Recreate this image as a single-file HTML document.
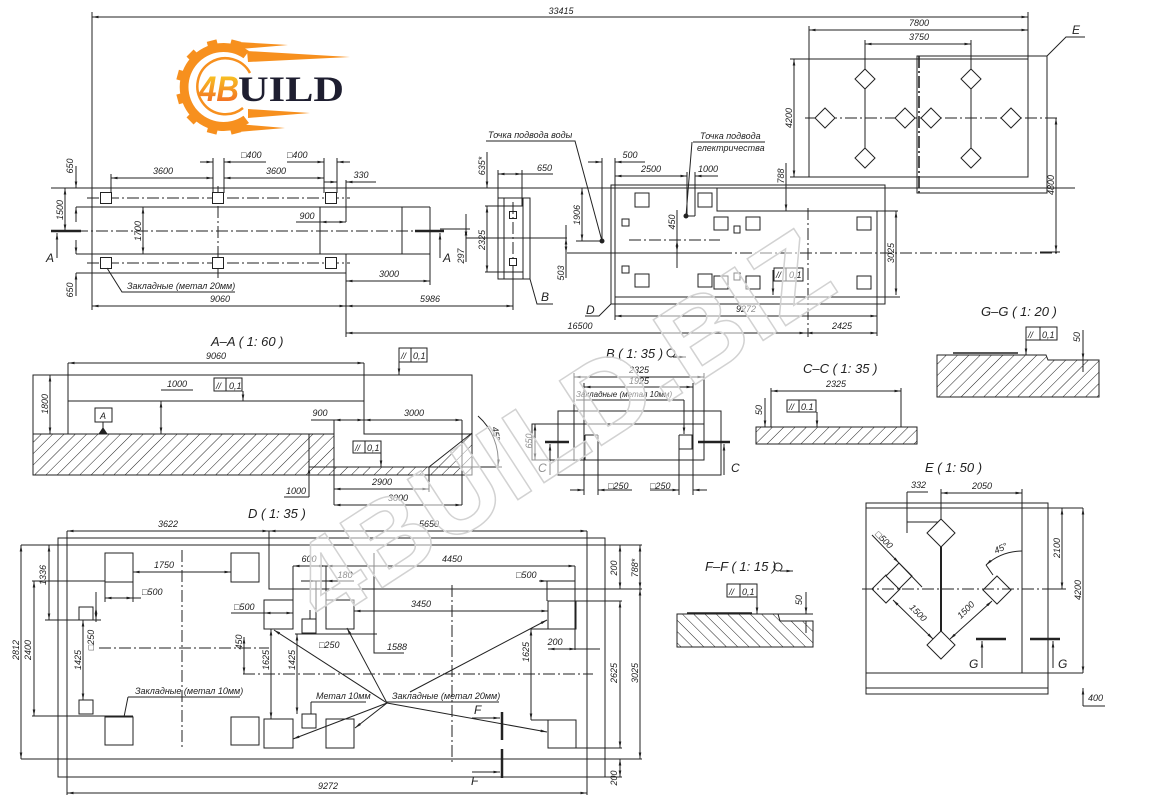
<!DOCTYPE html>
<html><head><meta charset="utf-8">
<style>
html,body{margin:0;padding:0;background:#fff;}
svg{display:block;}
text{font-family:"Liberation Sans","DejaVu Sans",sans-serif;font-style:italic;font-size:9px;fill:#222;stroke:none;}
.t{font-size:13px;}
.l{font-size:12px;}
.s{font-size:8px;}
.m{text-anchor:middle;}
.d{marker-start:url(#a);marker-end:url(#a);}
.e{marker-end:url(#a);}
.dd{stroke-dasharray:12 3 2 3;}
</style></head><body>
<svg width="1150" height="800" viewBox="0 0 1150 800" xmlns="http://www.w3.org/2000/svg">
<defs>
<marker id="a" viewBox="0 0 10 4" refX="10" refY="2" markerWidth="7" markerHeight="2.6" markerUnits="userSpaceOnUse" orient="auto-start-reverse"><path d="M0,0L10,2L0,4z" fill="#222"/></marker>
<pattern id="h" width="8" height="8" patternUnits="userSpaceOnUse" patternTransform="rotate(45)"><line x1="0" y1="-1" x2="0" y2="9" stroke="#222" stroke-width="1"/></pattern>
<pattern id="h2" width="8" height="8" patternUnits="userSpaceOnUse" patternTransform="rotate(-45)"><line x1="0" y1="-1" x2="0" y2="9" stroke="#222" stroke-width="1"/></pattern>
<linearGradient id="lg" x1="0" y1="0" x2="0" y2="1"><stop offset="0" stop-color="#f9d423"/><stop offset="1" stop-color="#f15a24"/></linearGradient>
</defs>
<rect width="1150" height="800" fill="#fff"/>

<!-- LOGO -->
<g fill="#f7901e">
<path d="M249 51 A44 44 0 1 0 249 123 L243.5 115.7 A35 35 0 1 1 243.5 58.3 Z"/>
<g>
<rect x="263" y="82" width="9" height="10" transform="rotate(-75 224 87)"/>
<rect x="263" y="82" width="9" height="10" transform="rotate(-105 224 87)"/>
<rect x="263" y="82" width="9" height="10" transform="rotate(-135 224 87)"/>
<rect x="263" y="82" width="9" height="10" transform="rotate(-165 224 87)"/>
<rect x="263" y="82" width="9" height="10" transform="rotate(165 224 87)"/>
<rect x="263" y="82" width="9" height="10" transform="rotate(135 224 87)"/>
<rect x="263" y="82" width="9" height="10" transform="rotate(105 224 87)"/>
<rect x="263" y="82" width="9" height="10" transform="rotate(75 224 87)"/>
</g>
<polygon points="238,42 288,45 240,49"/>
<polygon points="247,51 350,57 248,62"/>
<polygon points="248,109 310,113 248,118"/>
<polygon points="238,124 285,128 238,132"/>
</g>
<path d="M250 73 A28 28 0 1 0 243 108" fill="none" stroke="#f7901e" stroke-width="2.5"/>
<text x="199" y="101" style="font-style:italic;font-weight:bold;font-size:35px;fill:url(#lg)" textLength="40" lengthAdjust="spacingAndGlyphs">4B</text>
<text x="238" y="101" style="font-family:'Liberation Serif',serif;font-style:normal;font-weight:bold;font-size:36px;fill:#1e1e30" textLength="106" lengthAdjust="spacingAndGlyphs">UILD</text>

<g stroke="#222" stroke-width="1" fill="none">
<!-- ===== TOP PLAN ===== -->
<line class="d" x1="92" y1="17" x2="1028" y2="17"/>
<path d="M92 12V310 M1028 12V177"/>
<path d="M51 188H1075"/>
<path d="M76 207H430 M76 254H430 M76 273H346 M430 207V285 M402 207V254 M320 207V254"/>
<path d="M346 180V222 M346 254V337"/>
<path class="dd" d="M87 198H350 M87 263H350 M76 231H430 M218 186V279"/>
<path stroke-width="2.5" d="M51 231H81 M415 231H444"/>
<line class="e" x1="57" y1="258" x2="57" y2="233"/>
<line class="e" x1="440" y1="258" x2="440" y2="233"/>
<g fill="#fff">
<rect x="100.5" y="192.5" width="11" height="11"/><rect x="212.5" y="192.5" width="11" height="11"/><rect x="325.5" y="192.5" width="11" height="11"/>
<rect x="100.5" y="257.5" width="11" height="11"/><rect x="212.5" y="257.5" width="11" height="11"/><rect x="325.5" y="257.5" width="11" height="11"/>
</g>
<line class="d" x1="65" y1="188" x2="65" y2="231"/>
<line class="e" x1="76" y1="166" x2="76" y2="188"/>
<line class="e" x1="76" y1="222" x2="76" y2="207"/>
<line class="e" x1="76" y1="240" x2="76" y2="254"/>
<line class="e" x1="76" y1="296" x2="76" y2="273"/>
<line class="d" x1="143" y1="207" x2="143" y2="254"/>
<line class="d" x1="111" y1="178" x2="213" y2="178"/>
<line class="d" x1="224" y1="178" x2="324" y2="178"/>
<path d="M111 174V193 M213 158V193 M224 158V193 M324 158V193 M337 158V193"/>
<line class="e" x1="200" y1="162" x2="213" y2="162"/>
<line class="e" x1="240" y1="162" x2="224" y2="162"/>
<path d="M240 162H266 M287 162H311"/>
<line class="e" x1="311" y1="162" x2="324" y2="162"/>
<line class="e" x1="350" y1="162" x2="337" y2="162"/>
<line class="e" x1="324" y1="182" x2="337" y2="182"/>
<line class="e" x1="376" y1="182" x2="346" y2="182"/>
<line class="d" x1="320" y1="222" x2="346" y2="222"/>
<path d="M296 222H320"/>
<line class="d" x1="346" y1="281" x2="430" y2="281"/>
<line class="d" x1="346" y1="306" x2="513" y2="306"/>
<line class="d" x1="92" y1="306" x2="346" y2="306"/>
<line class="d" x1="346" y1="333" x2="806" y2="333"/>
<line class="d" x1="806" y1="333" x2="877" y2="333"/>
<path d="M107 268L122 292H235"/>

<!-- B top -->
<rect x="498" y="198" width="32" height="81"/>
<path d="M504 198V279 M523 198V279 M485 206H523 M485 272H523"/>
<rect x="509.5" y="211.5" width="7" height="7"/><rect x="509.5" y="258.5" width="7" height="7"/>
<path class="dd" d="M513 202V258"/>
<path d="M513 266V310"/>
<line class="d" x1="487" y1="206" x2="487" y2="272"/>
<line class="e" x1="487" y1="152" x2="487" y2="188"/>
<line class="d" x1="498" y1="174" x2="522" y2="174"/>
<path d="M522 174H553 M498 170V198 M522 170V206"/>
<path d="M530 279L537 304H553"/>
<path d="M440 229H470 M466 238H567 M466 214V262"/>
<line class="d" x1="466" y1="229" x2="466" y2="238"/>
<path d="M566 225V278"/>
<line class="d" x1="566" y1="238" x2="566" y2="253"/>
<path d="M567 253H720"/>
<path class="dd" d="M720 253H1057"/>
<line class="d" x1="582" y1="188" x2="582" y2="241"/>
<path d="M576 241H602"/>
<circle cx="602" cy="241" r="2" fill="#222"/>
<path d="M486 141H575L602 241"/>
<path d="M602 158V241 M615 158V188"/>
<line class="e" x1="588" y1="162" x2="602" y2="162"/>
<line class="e" x1="645" y1="162" x2="615" y2="162"/>
<line class="d" x1="615" y1="176" x2="687" y2="176"/>
<path d="M687 172V216 M695 172V216 M686 216H695"/>
<line class="e" x1="718" y1="176" x2="695" y2="176"/>
<path d="M693 142H765 M692 142L686 216"/>
<circle cx="686" cy="216" r="2" fill="#222"/>

<!-- D top -->
<rect x="611" y="185" width="274" height="119"/>
<path d="M615 188V297H900 M615 188H717V211H898 M877 211V336 M615 297V320"/>
<line class="e" x1="786" y1="163" x2="786" y2="211"/>
<line class="d" x1="896" y1="211" x2="896" y2="295"/>
<path class="dd" d="M808 208V337 M629 240H720"/>
<path d="M677 210V268"/>
<line class="d" x1="677" y1="240" x2="677" y2="252"/>
<g>
<rect x="635" y="193" width="14" height="14"/><rect x="698" y="193" width="14" height="14"/>
<rect x="622" y="219" width="7" height="7"/><rect x="714" y="217" width="14" height="13"/>
<rect x="734" y="226" width="6" height="7"/><rect x="746" y="217" width="14" height="13"/>
<rect x="857" y="217" width="14" height="13"/>
<rect x="622" y="266" width="7" height="7"/><rect x="635" y="274" width="14" height="13"/>
<rect x="698" y="274" width="14" height="13"/><rect x="714" y="276" width="14" height="13"/>
<rect x="734" y="273" width="6" height="7"/><rect x="746" y="276" width="14" height="13"/>
<rect x="857" y="276" width="14" height="13"/>
</g>
<rect x="774" y="268" width="29" height="13"/><path d="M786 268V281"/>
<line class="e" x1="773" y1="270" x2="773" y2="295"/>
<path d="M611 304L599 316H585"/>
<line class="d" x1="615" y1="316" x2="877" y2="316"/>

<!-- E plan -->
<line class="d" x1="809" y1="30" x2="1028" y2="30"/>
<rect x="809" y="59" width="219" height="118"/>
<path d="M809 26V59 M790 59H809 M790 177H809"/>
<line class="d" x1="794" y1="59" x2="794" y2="177"/>
<rect x="917" y="56" width="130" height="137"/>
<path class="dd" stroke-width="1.6" d="M919 56V193"/>
<line class="d" x1="865" y1="44" x2="971" y2="44"/>
<path d="M865 40V158 M971 40V158"/>
<path class="dd" d="M805 118H1060"/>
<g fill="#fff">
<polygon points="865,69 875,79 865,89 855,79"/><polygon points="971,69 981,79 971,89 961,79"/>
<polygon points="825,108 835,118 825,128 815,118"/><polygon points="905,108 915,118 905,128 895,118"/>
<polygon points="931,108 941,118 931,128 921,118"/><polygon points="1011,108 1021,118 1011,128 1001,118"/>
<polygon points="865,148 875,158 865,168 855,158"/><polygon points="971,148 981,158 971,168 961,158"/>
</g>
<line class="d" x1="1056" y1="118" x2="1056" y2="252"/>
<path d="M1040 252H1060"/>
<path d="M1047 56L1066 37H1085"/>

<!-- ===== A-A ===== -->
<rect x="33" y="375" width="439" height="100"/>
<rect x="33" y="434" width="301" height="41" fill="url(#h)"/>
<rect x="334" y="467" width="138" height="8" fill="url(#h)"/>
<polygon points="429,467 472,433 472,467" fill="url(#h)"/>
<path d="M364 363V434H472 M309 434V497 M334 420V505 M462 420V505 M429 467V492 M68 363V434 M68 401H364 M309 467H472"/>
<line class="d" x1="68" y1="363" x2="364" y2="363"/>
<line class="d" x1="50" y1="375" x2="50" y2="434"/>
<line class="d" x1="161" y1="401" x2="161" y2="434"/>
<path d="M161 390H193"/>
<rect x="214" y="378" width="28" height="13"/><path d="M226 378V391"/>
<line class="e" x1="243" y1="391" x2="243" y2="401"/>
<rect x="399" y="348" width="28" height="14"/><path d="M411 348V362"/>
<line class="e" x1="399" y1="362" x2="399" y2="375"/>
<rect x="95" y="408" width="17" height="14"/><path d="M103 422V430"/>
<polygon points="99,434 107,434 103,428" fill="#222"/>
<path d="M311 420H334"/>
<line class="d" x1="334" y1="420" x2="364" y2="420"/>
<line class="d" x1="364" y1="420" x2="462" y2="420"/>
<rect x="353" y="441" width="28" height="12"/><path d="M365 441V453"/>
<line class="e" x1="381" y1="453" x2="381" y2="467"/>
<path class="e" d="M478 416 A60 60 0 0 1 498 466"/>
<path d="M472 467H502"/>
<line class="e" x1="309" y1="480" x2="309" y2="467"/>
<path d="M284 497H309"/>
<line class="d" x1="334" y1="489" x2="429" y2="489"/>
<line class="d" x1="334" y1="505" x2="462" y2="505"/>

<!-- ===== B detail ===== -->
<rect x="558" y="411" width="163" height="64"/>
<rect x="532" y="424" width="172" height="36"/>
<path d="M574 373V461 M704 373V424 M584 383V495 M693 383V495 M598 435V495 M679 435V495 M585 435H598 M585 435V460 M679 435H692V449H679"/>
<line class="d" x1="574" y1="377" x2="704" y2="377"/>
<line class="d" x1="584" y1="387" x2="693" y2="387"/>
<path d="M576 400H684"/>
<line class="e" x1="684" y1="400" x2="684" y2="434"/>
<path stroke-width="2.5" d="M545 442H569 M698 442H730"/>
<line class="e" x1="550" y1="475" x2="550" y2="444"/>
<line class="e" x1="724" y1="475" x2="724" y2="444"/>
<line class="d" x1="535" y1="424" x2="535" y2="460"/>
<line class="e" x1="570" y1="490" x2="584" y2="490"/>
<line class="e" x1="612" y1="490" x2="598" y2="490"/>
<path d="M598 490H632 M650 490H679"/>
<line class="e" x1="665" y1="490" x2="679" y2="490"/>
<line class="e" x1="707" y1="490" x2="693" y2="490"/>
<circle cx="671" cy="353" r="4"/>
<line class="e" x1="673" y1="357" x2="686" y2="357"/>

<!-- ===== C-C ===== -->
<rect x="756" y="427" width="161" height="17" fill="url(#h)"/>
<path d="M771 388V427 M901 388V427"/>
<line class="d" x1="771" y1="391" x2="901" y2="391"/>
<rect x="787" y="400" width="29" height="12"/><path d="M799 400V412"/>
<line class="e" x1="817" y1="412" x2="817" y2="427"/>
<line class="e" x1="765" y1="398" x2="765" y2="427"/>

<!-- ===== G-G ===== -->
<polygon points="937,355 1046,355 1048,360 1099,360 1099,397 937,397" fill="url(#h)"/>
<path stroke-width="1.5" d="M953 353H1018"/>
<rect x="1026" y="327" width="31" height="13"/><path d="M1040 327V340"/>
<line class="e" x1="1026" y1="340" x2="1026" y2="355"/>
<line class="e" x1="1083" y1="330" x2="1083" y2="360"/>
<path d="M1083 360V372 M1060 360H1090"/>

<!-- ===== F-F ===== -->
<polygon points="677,614 778,614 780,621 813,621 813,647 677,647" fill="url(#h2)"/>
<path d="M778 614H813"/>
<path stroke-width="1.5" d="M687 613H752"/>
<rect x="727" y="584" width="30" height="13"/><path d="M740 584V597"/>
<line class="e" x1="757" y1="597" x2="757" y2="614"/>
<line class="e" x1="806" y1="592" x2="806" y2="614"/>
<path d="M806 621V633"/>
<circle cx="778" cy="567" r="4"/>
<line class="e" x1="780" y1="571" x2="793" y2="571"/>

<!-- ===== E detail ===== -->
<rect x="866" y="503" width="182" height="191"/>
<path d="M866 508H1083 M866 673H1083 M866 688H1048 M1022 489V673 M907 492V533 M907 522H941 M941 489V520"/>
<path d="M907 492H928"/>
<line class="d" x1="941" y1="493" x2="1022" y2="493"/>
<path stroke-width="2" d="M941 547V631"/>
<line class="d" x1="1062" y1="508" x2="1062" y2="589"/>
<line class="d" x1="1083" y1="508" x2="1083" y2="673"/>
<line class="e" x1="1083" y1="706" x2="1083" y2="688"/>
<path d="M1083 706H1105 M1048 589H1066"/>
<path class="dd" d="M862 589H1065"/>
<g fill="#fff">
<polygon points="941,519 955,533 941,547 927,533"/>
<polygon points="941,631 955,645 941,659 927,645"/>
<polygon points="997,576 1011,590 997,604 983,590"/>
<polygon points="886,575 900,589 886,603 872,589"/>
<polygon points="899,563 912,576 899,589 886,576"/>
</g>
<path class="dd" d="M862 589H1065"/>
<line class="e" x1="872" y1="535" x2="899" y2="563"/>
<path d="M899 563L922 587"/>
<line class="d" x1="893" y1="600" x2="933" y2="639"/>
<line class="d" x1="950" y1="639" x2="992" y2="601"/>
<path class="e" d="M1022 551 A55 55 0 0 0 986 565"/>
<path d="M986 565L993 575"/>
<path stroke-width="2.5" d="M976 639H1006 M1030 639H1060"/>
<line class="e" x1="982" y1="668" x2="982" y2="641"/>
<line class="e" x1="1053" y1="668" x2="1053" y2="641"/>

<!-- ===== D detail ===== -->
<rect x="58" y="538" width="547" height="239"/>
<path d="M21 545H642 M21 759H642 M67 531V795 M587 531V795 M269 531V589H642 M576 601H622 M576 748H622 M587 777H622"/>
<line class="d" x1="21" y1="545" x2="21" y2="759"/>
<line class="d" x1="640" y1="589" x2="640" y2="759"/>
<line class="d" x1="640" y1="545" x2="640" y2="589"/>
<line class="d" x1="620" y1="545" x2="620" y2="589"/>
<line class="d" x1="620" y1="601" x2="620" y2="748"/>
<line class="d" x1="620" y1="759" x2="620" y2="777"/>
<line class="d" x1="67" y1="531" x2="269" y2="531"/>
<line class="d" x1="269" y1="531" x2="587" y2="531"/>
<line class="d" x1="67" y1="793" x2="587" y2="793"/>
<path class="dd" d="M182 550V748 M452 585V762 M99 648H269 M243 674H593"/>
<g fill="#fff">
<rect x="105" y="553" width="28" height="29"/><rect x="231" y="553" width="28" height="29"/>
<rect x="264" y="600" width="29" height="29"/><rect x="326" y="600" width="28" height="29"/>
<rect x="548" y="601" width="28" height="28"/>
<rect x="105" y="717" width="28" height="28"/><rect x="231" y="717" width="28" height="28"/>
<rect x="264" y="719" width="29" height="29"/><rect x="326" y="719" width="28" height="29"/>
<rect x="548" y="720" width="28" height="28"/>
<rect x="79" y="607" width="14" height="13"/><rect x="79" y="700" width="14" height="14"/>
<rect x="302" y="619" width="14" height="14"/><rect x="302" y="714" width="14" height="14"/>
</g>
<line class="d" x1="133" y1="572" x2="231" y2="572"/>
<line class="d" x1="105" y1="598" x2="133" y2="598"/>
<path d="M133 598H141 M105 582V602 M133 582V602"/>
<line class="d" x1="49" y1="545" x2="49" y2="620"/>
<path d="M45 620H101"/>
<line class="d" x1="34" y1="581" x2="34" y2="716"/>
<path d="M32 581H105 M32 716H133"/>
<line class="d" x1="83" y1="620" x2="83" y2="700"/>
<path d="M96 592V622"/>
<line class="d" x1="96" y1="607" x2="96" y2="620"/>
<path d="M128 697H240 M128 697L124 717"/>
<path d="M293 566V600 M326 566V600 M316 581V619 M301 581H354"/>
<line class="d" x1="293" y1="566" x2="326" y2="566"/>
<line class="d" x1="326" y1="566" x2="575" y2="566"/>
<line class="e" x1="301" y1="581" x2="316" y2="581"/>
<line class="e" x1="340" y1="581" x2="326" y2="581"/>
<path d="M231 613H264"/>
<line class="d" x1="264" y1="613" x2="293" y2="613"/>
<line class="d" x1="354" y1="611" x2="548" y2="611"/>
<path d="M374 553V653H404 M295 634H377"/>
<line class="d" x1="244" y1="637" x2="244" y2="674"/>
<line class="d" x1="271" y1="629" x2="271" y2="719"/>
<line class="d" x1="297" y1="634" x2="297" y2="714"/>
<path d="M310 610V619 M311 702H366 M311 702V714"/>
<path d="M387 702H499"/>
<path d="M539 581H575 M547 581V601 M575 566V650"/>
<line class="e" x1="539" y1="581" x2="547" y2="581"/>
<line class="d" x1="531" y1="629" x2="531" y2="720"/>
<path d="M531 629H548 M531 720H548"/>
<line class="d" x1="548" y1="649" x2="576" y2="649"/>
<path d="M576 649H600"/>
<line class="e" x1="387" y1="703" x2="274" y2="630"/>
<line class="e" x1="387" y1="703" x2="347" y2="628"/>
<line class="e" x1="410" y1="692" x2="547" y2="620"/>
<line class="e" x1="387" y1="703" x2="293" y2="739"/>
<line class="e" x1="387" y1="703" x2="355" y2="728"/>
<line class="e" x1="387" y1="703" x2="547" y2="732"/>
<path stroke-width="2.5" d="M502 712V740 M502 749V778"/>
<line class="e" x1="472" y1="718" x2="500" y2="718"/>
<line class="e" x1="472" y1="772" x2="500" y2="772"/>
</g>

<!-- ===== TEXTS ===== -->
<g>
<text x="561" y="14" class="m">33415</text>
<text x="241" y="158">□400</text><text x="287" y="158">□400</text>
<text x="163" y="174" class="m">3600</text><text x="276" y="174" class="m">3600</text>
<text x="361" y="178" class="m">330</text>
<text x="307" y="219" class="m">900</text>
<text x="389" y="277" class="m">3000</text>
<text x="220" y="302" class="m">9060</text>
<text x="430" y="302" class="m">5986</text>
<text x="580" y="329" class="m">16500</text>
<text x="842" y="329" class="m">2425</text>
<text x="127" y="289">Закладные (метал 20мм)</text>
<text x="73" y="166" class="m" transform="rotate(-90 73 166)">650</text>
<text x="63" y="210" class="m" transform="rotate(-90 63 210)">1500</text>
<text x="141" y="231" class="m" transform="rotate(-90 141 231)">1700</text>
<text x="73" y="290" class="m" transform="rotate(-90 73 290)">650</text>
<text x="464" y="256" class="m" transform="rotate(-90 464 256)">297</text>
<text x="485" y="240" class="m" transform="rotate(-90 485 240)">2325</text>
<text x="485" y="166" class="m" transform="rotate(-90 485 166)">635*</text>
<text x="564" y="273" class="m" transform="rotate(-90 564 273)">503</text>
<text x="580" y="215" class="m" transform="rotate(-90 580 215)">1906</text>
<text x="675" y="222" class="m" transform="rotate(-90 675 222)">450</text>
<text x="784" y="176" class="m" transform="rotate(-90 784 176)">788</text>
<text x="894" y="253" class="m" transform="rotate(-90 894 253)">3025</text>
<text x="792" y="118" class="m" transform="rotate(-90 792 118)">4200</text>
<text x="1054" y="185" class="m" transform="rotate(-90 1054 185)">4800</text>
<text x="537" y="171">650</text>
<text x="541" y="301" class="l">B</text>
<text x="46" y="262" class="l">A</text>
<text x="443" y="262" class="l">A</text>
<text x="586" y="314" class="l">D</text>
<text x="1072" y="34" class="l">E</text>
<text x="488" y="138">Точка подвода воды</text>
<text x="630" y="158" class="m">500</text>
<text x="651" y="172" class="m">2500</text>
<text x="708" y="172" class="m">1000</text>
<text x="700" y="139">Точка подвода</text>
<text x="697" y="151">електричества</text>
<text x="746" y="312" class="m">9272</text>
<text x="919" y="26" class="m">7800</text>
<text x="919" y="40" class="m">3750</text>
<text x="776" y="278">//</text><text x="789" y="278">0,1</text>

<text x="211" y="346" class="t">A–A ( 1: 60 )</text>
<text x="216" y="359" class="m">9060</text>
<text x="48" y="404" class="m" transform="rotate(-90 48 404)">1800</text>
<text x="177" y="387" class="m">1000</text>
<text x="216" y="389">//</text><text x="229" y="389">0,1</text>
<text x="401" y="359">//</text><text x="413" y="359">0,1</text>
<text x="103" y="419" class="m">A</text>
<text x="320" y="416" class="m">900</text>
<text x="414" y="416" class="m">3000</text>
<text x="355" y="451">//</text><text x="367" y="451">0,1</text>
<text x="493" y="434" class="m" transform="rotate(80 493 434)">45°</text>
<text x="296" y="494" class="m">1000</text>
<text x="382" y="485" class="m">2900</text>
<text x="398" y="501" class="m">3000</text>

<text x="606" y="358" class="t">B ( 1: 35 )</text>
<text x="639" y="373" class="m">2325</text>
<text x="639" y="384" class="m">1925</text>
<text x="576" y="397" class="s">Закладные (метал 10мм)</text>
<text x="538" y="472" class="l">C</text>
<text x="731" y="472" class="l">C</text>
<text x="532" y="441" class="m" transform="rotate(-90 532 441)">650</text>
<text x="608" y="489">□250</text>
<text x="650" y="489">□250</text>

<text x="803" y="373" class="t">C–C ( 1: 35 )</text>
<text x="836" y="387" class="m">2325</text>
<text x="762" y="410" class="m" transform="rotate(-90 762 410)">50</text>
<text x="789" y="410">//</text><text x="801" y="410">0.1</text>

<text x="981" y="316" class="t">G–G ( 1: 20 )</text>
<text x="1080" y="337" class="m" transform="rotate(-90 1080 337)">50</text>
<text x="1028" y="338">//</text><text x="1042" y="338">0,1</text>

<text x="705" y="571" class="t">F–F ( 1: 15 )</text>
<text x="802" y="600" class="m" transform="rotate(-90 802 600)">50</text>
<text x="729" y="595">//</text><text x="742" y="595">0,1</text>

<text x="925" y="472" class="t">E ( 1: 50 )</text>
<text x="911" y="488">332</text>
<text x="982" y="489" class="m">2050</text>
<text x="1060" y="548" class="m" transform="rotate(-90 1060 548)">2100</text>
<text x="1081" y="590" class="m" transform="rotate(-90 1081 590)">4200</text>
<text x="1088" y="701">400</text>
<text x="882" y="542" class="m" transform="rotate(45 882 542)">□500</text>
<text x="916" y="615" class="m" transform="rotate(45 916 615)">1500</text>
<text x="968" y="612" class="m" transform="rotate(-45 968 612)">1500</text>
<text x="1002" y="551" class="m" transform="rotate(-25 1002 551)">45°</text>
<text x="969" y="668" class="l">G</text>
<text x="1058" y="668" class="l">G</text>

<text x="248" y="518" class="t">D ( 1: 35 )</text>
<text x="168" y="527" class="m">3622</text>
<text x="429" y="527" class="m">5650</text>
<text x="328" y="789" class="m">9272</text>
<text x="164" y="568" class="m">1750</text>
<text x="142" y="595">□500</text>
<text x="46" y="575" class="m" transform="rotate(-90 46 575)">1336</text>
<text x="31" y="650" class="m" transform="rotate(-90 31 650)">2400</text>
<text x="19" y="650" class="m" transform="rotate(-90 19 650)">2812</text>
<text x="81" y="660" class="m" transform="rotate(-90 81 660)">1425</text>
<text x="94" y="640" class="m" transform="rotate(-90 94 640)">□250</text>
<text x="135" y="694">Закладные (метал 10мм)</text>
<text x="309" y="562" class="m">600</text>
<text x="452" y="562" class="m">4450</text>
<text x="345" y="578" class="m">180</text>
<text x="234" y="610">□500</text>
<text x="421" y="607" class="m">3450</text>
<text x="387" y="650">1588</text>
<text x="242" y="642" class="m" transform="rotate(-90 242 642)">450</text>
<text x="269" y="660" class="m" transform="rotate(-90 269 660)">1625</text>
<text x="295" y="660" class="m" transform="rotate(-90 295 660)">1425</text>
<text x="319" y="648">□250</text>
<text x="316" y="699">Метал 10мм</text>
<text x="392" y="699">Закладные (метал 20мм)</text>
<text x="516" y="578">□500</text>
<text x="529" y="652" class="m" transform="rotate(-90 529 652)">1625</text>
<text x="555" y="645" class="m">200</text>
<text x="617" y="568" class="m" transform="rotate(-90 617 568)">200</text>
<text x="638" y="568" class="m" transform="rotate(-90 638 568)">788*</text>
<text x="617" y="673" class="m" transform="rotate(-90 617 673)">2625</text>
<text x="638" y="673" class="m" transform="rotate(-90 638 673)">3025</text>
<text x="617" y="778" class="m" transform="rotate(-90 617 778)">200</text>
<text x="474" y="714" class="l">F</text>
<text x="471" y="785" class="l">F</text>
</g>

<!-- watermark -->
<text x="0" y="0" transform="translate(582,458) rotate(-33)" text-anchor="middle" style="font-style:normal;font-weight:bold;font-size:112px;fill:#fff;fill-opacity:0.5;stroke:#d2d2d2;stroke-width:1.5">4BUILD.BIZ</text>
</svg>
</body></html>
